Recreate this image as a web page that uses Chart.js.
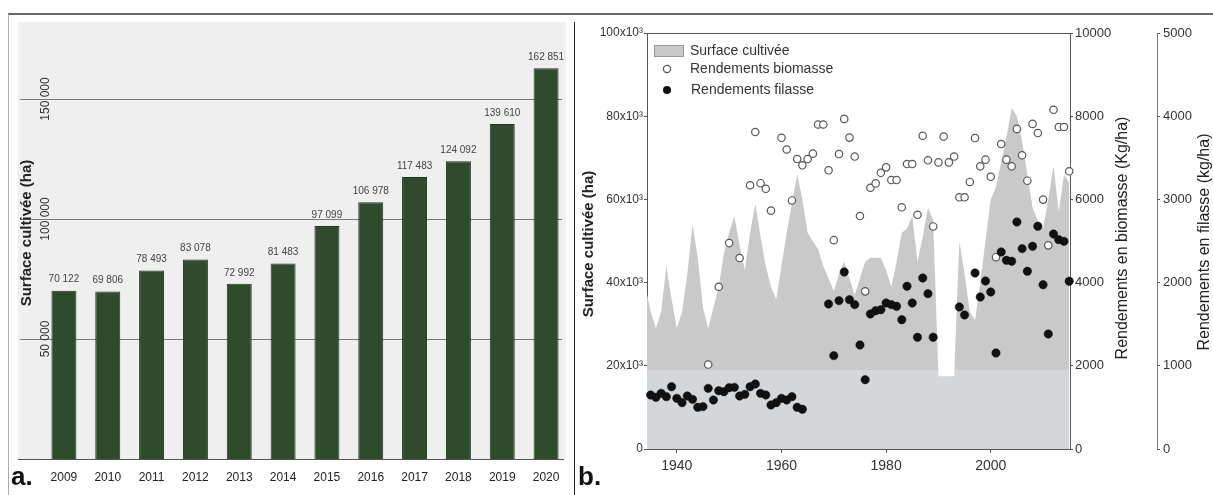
<!DOCTYPE html>
<html>
<head>
<meta charset="utf-8">
<script src="https://cdn.jsdelivr.net/npm/chart.js@4.4.0/dist/chart.umd.min.js"></script>
<style>
body{margin:0;background:#fff;width:1213px;height:495px;overflow:hidden;position:relative}
canvas{position:absolute;top:0}
#chartA{left:0}
#chartB{left:575px}
.rule{position:absolute}
</style>
</head>
<body>
<canvas id="chartA" width="574" height="495"></canvas>
<canvas id="chartB" width="638" height="495"></canvas>
<div class="rule" style="left:8px;top:13px;width:1205px;height:2px;background:#6a6a6a"></div>
<div class="rule" style="left:8px;top:14px;width:1px;height:481px;background:#aaa"></div>
<div class="rule" style="left:574px;top:22px;width:1px;height:473px;background:#222"></div>
<script>
// panel a : surface cultivée par année
const yearsA = ['2009','2010','2011','2012','2013','2014','2015','2016','2017','2018','2019','2020'];
const surfaceA = [70122, 69806, 78493, 83078, 72992, 81483, 97099, 106978, 117483, 124092, 139610, 162851];
const ticksA = [50000, 100000, 150000];

// panel b : surface (ha) et rendements (kg/ha)
const areaYears = [1934,1935,1936,1937,1938,1939,1940,1941,1942,1943,
  1944,1945,1946,1947,1948,1949,1950,1951,1952,1953,
  1954,1955,1956,1957,1958,1959,1960,1961,1962,1963,
  1964,1965,1966,1967,1968,1969,1970,1971,1972,1973,
  1974,1975,1976,1977,1978,1979,1980,1981,1982,1983,
  1984,1985,1986,1987,1988,1989,1990,1991,1992,1993,
  1994,1995,1996,1997,1998,1999,2000,2001,2002,2003,
  2004,2005,2006,2007,2008,2009,2010,2011,2012,2013,
  2014,2015];
const areaHa = [39000,33000,29000,33000,44000,36000,29000,33000,42000,54000,
  46000,34000,29000,34000,39000,47000,52000,56000,49000,43000,
  52000,59000,51000,44000,39000,36000,44000,52000,59000,66000,
  60000,52000,50000,48000,44000,41000,38000,42000,45000,41000,
  37000,41000,45000,46000,46000,46000,43000,39000,45000,52000,
  53000,56000,45000,51000,58000,55000,17500,17500,17500,17500,
  50000,42000,33000,31000,40000,50000,60000,63000,69000,75000,
  82000,80000,74000,66000,58000,55000,53000,60000,68000,57000,
  66000,64000];

const bioYears = [1946,1948,1950,1952,1954,1955,1956,1957,1958,1960,
  1961,1962,1963,1964,1965,1966,1967,1968,1969,1970,
  1971,1972,1973,1974,1975,1976,1977,1978,1979,1980,
  1981,1982,1983,1984,1985,1986,1987,1988,1989,1990,
  1991,1992,1993,1994,1995,1996,1997,1998,1999,2000,
  2001,2002,2003,2004,2005,2006,2007,2008,2009,2010,
  2011,2012,2013,2014,2015];
const bioYield = [2030,3900,4950,4590,6340,7620,6390,6255,5730,7480,
  7200,5975,6970,6820,6970,7100,7800,7800,6700,5020,
  7090,7935,7485,7030,5600,3790,6280,6385,6640,6770,
  6465,6465,5810,6850,6850,5630,7530,6940,5350,6890,
  7510,6890,7030,6050,6050,6420,7475,6795,6955,6545,
  4610,7330,6955,6795,7695,7060,6450,7815,7595,5995,
  4895,8155,7740,7740,6675];

const filYears = [1935,1936,1937,1938,1939,1940,1941,1942,1943,1944,
  1945,1946,1947,1948,1949,1950,1951,1952,1953,1954,
  1955,1956,1957,1958,1959,1960,1961,1962,1963,1964,
  1969,1970,1971,1972,1973,1974,1975,1976,1977,1978,
  1979,1980,1981,1982,1983,1984,1985,1986,1987,1988,
  1989,1994,1995,1997,1998,1999,2000,2001,2002,2003,
  2004,2005,2006,2007,2008,2009,2010,2011,2012,2013,
  2014,2015];
const filYield = [649,621,669,629,749,609,557,637,597,501,
  509,729,589,701,689,737,741,637,657,749,
  781,669,649,529,557,609,589,629,501,477,
  1743,1122,1783,2127,1795,1735,1250,833,1623,1662,
  1674,1755,1735,1715,1554,1956,1755,1343,2055,1867,
  1343,1707,1611,2115,1827,2019,1887,1154,2368,2268,
  2256,2729,2408,2136,2436,2677,1975,1382,2584,2516,
  2496,2016];

const xTicksB = [1940, 1960, 1980, 2000];

Chart.defaults.font.family = 'Arial, "Liberation Sans", sans-serif';
Chart.defaults.color = '#333';

const spaced = n => String(n).replace(/\B(?=(\d{3})+(?!\d))/g, ' ');

function rotatedText(ctx, txt, x, y, font, color) {
    ctx.save();
    ctx.translate(x, y);
    ctx.rotate(-Math.PI / 2);
    ctx.font = font;
    ctx.fillStyle = color;
    ctx.textAlign = 'center';
    ctx.textBaseline = 'middle';
    ctx.fillText(txt, 0, 0);
    ctx.restore();
}

const panelA = {
    id: 'panelA',
    beforeDraw(chart) {
        const ctx = chart.ctx;
        ctx.save();
        ctx.fillStyle = '#efefef';
        ctx.fillRect(18, 22, 548, 437);
        ctx.restore();
    },
    beforeDatasetsDraw(chart) {
        const {ctx, scales: {y}} = chart;
        ctx.save();
        ctx.strokeStyle = '#7a7a7a';
        ctx.lineWidth = 1;
        ticksA.forEach(v => {
            const py = Math.round(y.getPixelForValue(v)) + 0.5;
            ctx.beginPath(); ctx.moveTo(20, py); ctx.lineTo(562, py); ctx.stroke();
        });
        const by = Math.round(y.getPixelForValue(0)) + 0.5;
        ctx.strokeStyle = '#555';
        ctx.beginPath(); ctx.moveTo(18, by); ctx.lineTo(564, by); ctx.stroke();
        ctx.restore();
        ticksA.forEach(v => rotatedText(ctx, spaced(v), 46, y.getPixelForValue(v), '12px Arial', '#333'));
    },
    afterDatasetsDraw(chart) {
        const ctx = chart.ctx;
        const meta = chart.getDatasetMeta(0);
        ctx.save();
        ctx.font = '10px Arial';
        ctx.fillStyle = '#444';
        ctx.textAlign = 'center';
        ctx.textBaseline = 'middle';
        meta.data.forEach((bar, i) => ctx.fillText(spaced(surfaceA[i]), bar.x, bar.y - 11));
        ctx.font = 'bold 26px Arial';
        ctx.fillStyle = '#111';
        ctx.textAlign = 'left';
        ctx.textBaseline = 'alphabetic';
        ctx.fillText('a.', 11, 485);
        ctx.restore();
        rotatedText(ctx, 'Surface cultivée (ha)', 27, 233, 'bold 15px Arial', '#222');
    }
};

new Chart(document.getElementById('chartA'), {
    type: 'bar',
    data: {
        labels: yearsA,
        datasets: [{
            label: 'Surface cultivée (ha)',
            data: surfaceA,
            backgroundColor: '#2e4b2c',
            borderColor: '#213820',
            borderWidth: 1,
            barPercentage: 0.57,
            categoryPercentage: 1
        }]
    },
    options: {
        responsive: false,
        animation: false,
        devicePixelRatio: 1,
        layout: {padding: {left: 42, right: 6, top: 27, bottom: 0}},
        plugins: {legend: {display: false}, tooltip: {enabled: false}},
        scales: {
            x: {
                grid: {display: false},
                border: {display: false},
                ticks: {color: '#222', font: {size: 12}, padding: 3, maxRotation: 0, autoSkip: false},
                afterFit: s => { s.height = 36; }
            },
            y: {
                min: 0, max: 180000,
                ticks: {display: false},
                grid: {display: false},
                border: {display: false},
                afterFit: s => { s.width = 0; }
            }
        }
    },
    plugins: [panelA]
});

const panelB = {
    id: 'panelB',
    afterDraw(chart) {
        const {ctx, chartArea: a} = chart;
        ctx.save();
        ctx.strokeStyle = '#555';
        ctx.lineWidth = 1;
        ctx.beginPath(); ctx.moveTo(a.left, a.top + 0.5); ctx.lineTo(a.right, a.top + 0.5); ctx.stroke();

        // legend
        const ds = chart.data.datasets;
        ctx.font = '14px Arial';
        ctx.fillStyle = '#333';
        ctx.textBaseline = 'middle';
        ctx.fillStyle = '#c8c8c8';
        ctx.fillRect(79.5, 45.5, 29, 11);
        ctx.strokeStyle = '#999';
        ctx.strokeRect(79.5, 45.5, 29, 11);
        ctx.fillStyle = '#333';
        ctx.fillText(ds[0].label, 115, 51);
        ctx.beginPath(); ctx.arc(92, 69, 3.6, 0, Math.PI * 2);
        ctx.fillStyle = '#fff'; ctx.fill();
        ctx.strokeStyle = '#555'; ctx.lineWidth = 1.2; ctx.stroke();
        ctx.fillStyle = '#333';
        ctx.fillText(ds[1].label, 115, 69);
        ctx.beginPath(); ctx.arc(92, 90, 4, 0, Math.PI * 2);
        ctx.fillStyle = '#111'; ctx.fill();
        ctx.fillStyle = '#333';
        ctx.fillText(ds[2].label, 116, 90);

        ctx.font = 'bold 26px Arial';
        ctx.fillStyle = '#111';
        ctx.textBaseline = 'alphabetic';
        ctx.fillText('b.', 3, 485);
        ctx.restore();

        rotatedText(ctx, 'Surface cultivée (ha)', 14, 244, 'bold 15px Arial', '#222');
        rotatedText(ctx, 'Rendements en biomasse (Kg/ha)', 548, 238, '16px Arial', '#222');
        rotatedText(ctx, 'Rendements en filasse (kg/ha)', 630, 242, '16px Arial', '#222');
    }
};

function areaFill(context) {
    const chart = context.chart;
    const a = chart.chartArea;
    if (!a) return '#c8c8c8';
    const split = (chart.scales.y.getPixelForValue(19000) - a.top) / (a.bottom - a.top);
    const g = chart.ctx.createLinearGradient(0, a.top, 0, a.bottom);
    g.addColorStop(0, '#c9c9c9');
    g.addColorStop(split, '#c9c9c9');
    g.addColorStop(Math.min(1, split + 0.001), '#d3d7da');
    g.addColorStop(1, '#d3d7da');
    return g;
}

const sideTick = {drawOnChartArea: false, drawTicks: true, tickLength: 3, color: '#555'};

new Chart(document.getElementById('chartB'), {
    type: 'scatter',
    data: {
        datasets: [{
            type: 'line',
            label: 'Surface cultivée',
            data: areaYears.map((x, i) => ({x, y: areaHa[i]})),
            yAxisID: 'y',
            fill: 'origin',
            backgroundColor: areaFill,
            borderColor: 'transparent',
            borderWidth: 0,
            pointRadius: 0,
            tension: 0,
            order: 3
        }, {
            label: 'Rendements biomasse',
            data: bioYears.map((x, i) => ({x, y: bioYield[i]})),
            yAxisID: 'yBio',
            pointRadius: 3.7,
            pointBackgroundColor: '#fff',
            pointBorderColor: '#555',
            pointBorderWidth: 1.2,
            clip: false,
            order: 2
        }, {
            label: 'Rendements filasse',
            data: filYears.map((x, i) => ({x, y: filYield[i]})),
            yAxisID: 'yFil',
            pointRadius: 4.2,
            pointBackgroundColor: '#111',
            pointBorderColor: '#111',
            pointBorderWidth: 0.5,
            clip: false,
            order: 1
        }]
    },
    options: {
        responsive: false,
        animation: false,
        devicePixelRatio: 1,
        layout: {padding: {left: 0, right: 0, top: 33, bottom: 0}},
        plugins: {legend: {display: false}, tooltip: {enabled: false}},
        scales: {
            x: {
                type: 'linear',
                min: 1934.3, max: 2015.15,
                afterBuildTicks: s => { s.ticks = xTicksB.map(v => ({value: v})); },
                ticks: {color: '#333', font: {size: 14}, padding: 5, callback: v => String(v)},
                grid: {drawOnChartArea: false, drawTicks: true, tickLength: 4, color: '#555'},
                border: {color: '#555'},
                afterFit: s => { s.height = 46; }
            },
            y: {
                position: 'left',
                min: 0, max: 100000,
                ticks: {stepSize: 20000, color: '#333', font: {size: 12}, padding: 1,
                        callback: v => v === 0 ? '0' : (v / 1000) + 'x10³'},
                grid: sideTick,
                border: {color: '#555'},
                afterFit: s => { s.width = 72; }
            },
            yBio: {
                position: 'right',
                min: 0, max: 10000,
                ticks: {stepSize: 2000, color: '#333', font: {size: 13}, padding: 2, callback: v => String(v)},
                grid: sideTick,
                border: {color: '#555'},
                afterFit: s => { s.width = 87; }
            },
            yFil: {
                position: 'right',
                min: 0, max: 5000,
                ticks: {stepSize: 1000, color: '#333', font: {size: 13}, padding: 3, callback: v => String(v)},
                grid: sideTick,
                border: {color: '#777'},
                afterFit: s => { s.width = 56; }
            }
        }
    },
    plugins: [panelB]
});
</script>
</body>
</html>
